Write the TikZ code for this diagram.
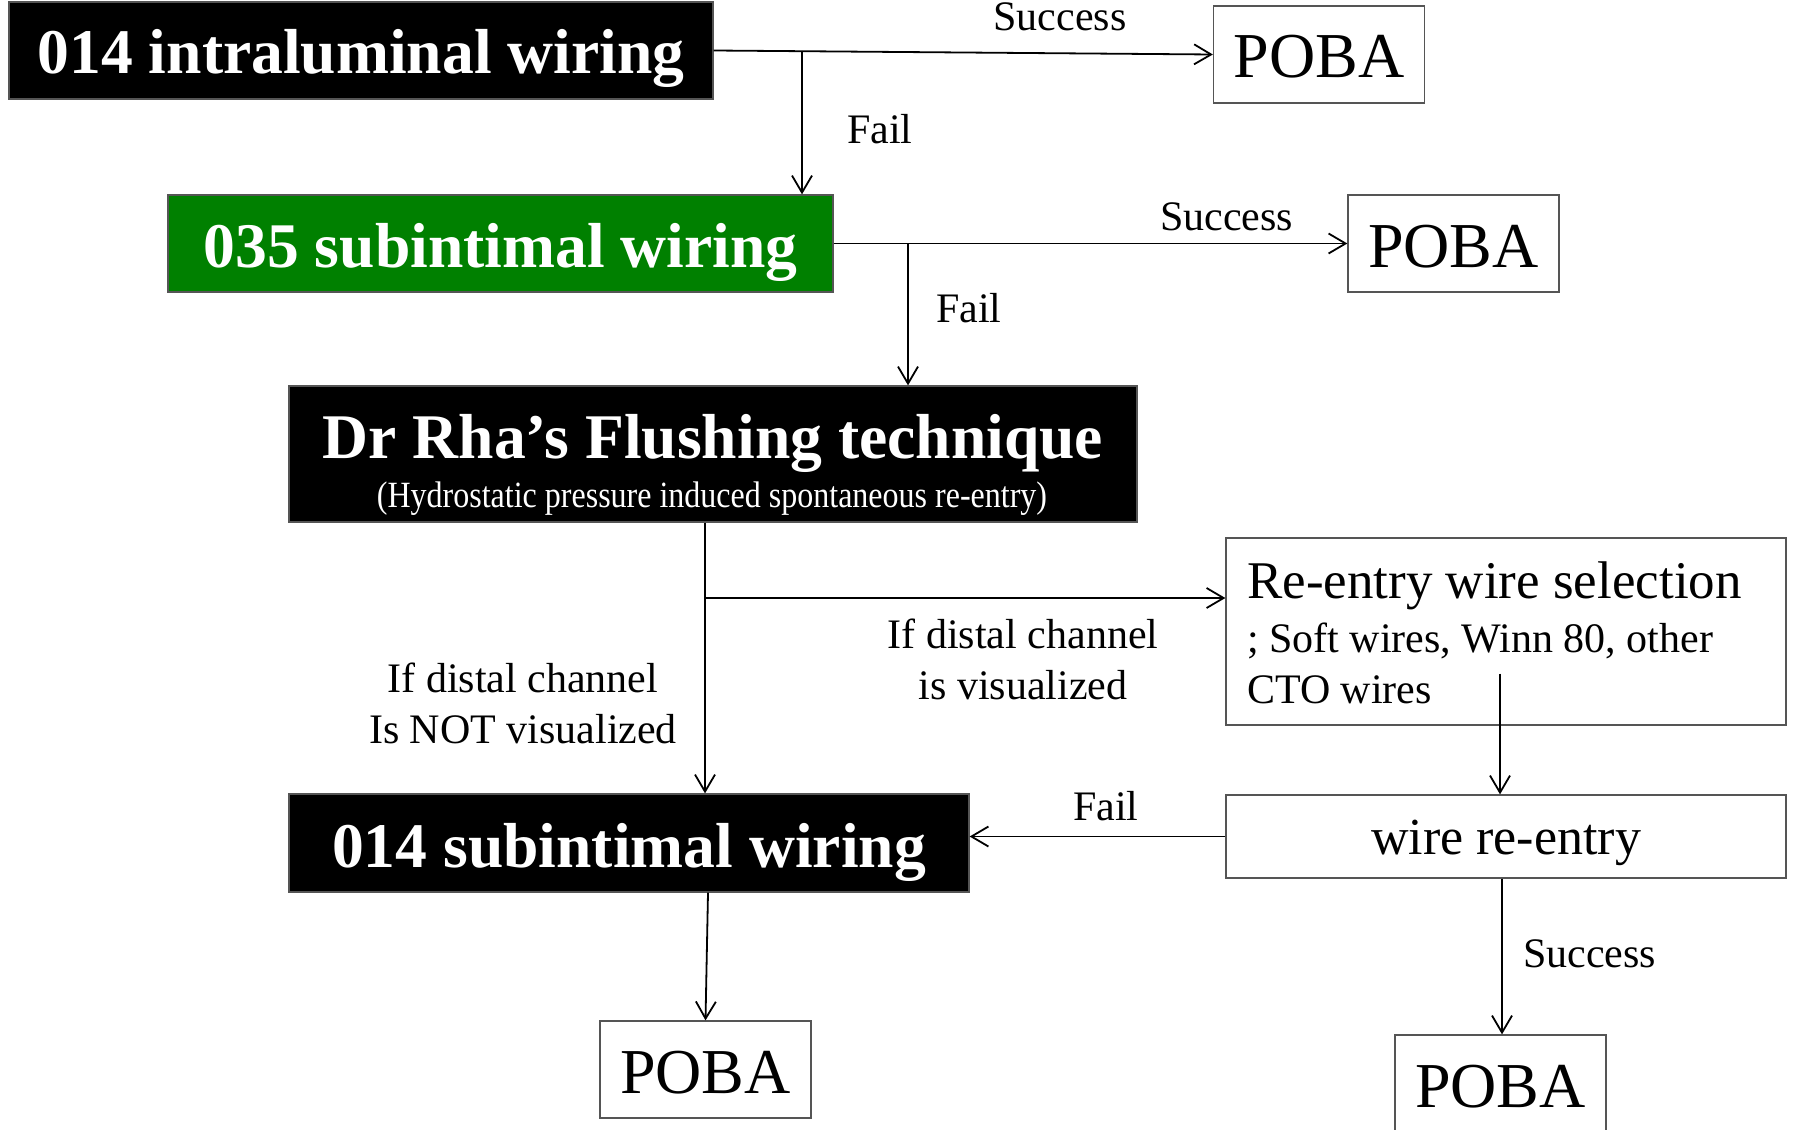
\documentclass[tikz,border=0pt]{standalone}
\usepackage{fontspec}
\setmainfont{Liberation Serif}
\usetikzlibrary{arrows.meta,calc}
\definecolor{boxgreen}{RGB}{0,128,0}
\definecolor{edgegray}{RGB}{85,85,85}
\begin{document}
\begin{tikzpicture}[x=1pt,y=-1pt,
  conn/.style={line width=1.8pt,-{Straight Barb[length=17pt,width=20pt,line width=1.8pt]}},
  boxbase/.style={draw=edgegray,line width=1.3pt,inner xsep=0pt,inner ysep=0pt,anchor=base},
  darkbox/.style={boxbase,fill=black,text=white,font=\fontsize{63.6}{70}\selectfont\bfseries},
  greenbox/.style={boxbase,fill=boxgreen,text=white,font=\fontsize{63.6}{70}\selectfont\bfseries},
  pobabox/.style={boxbase,fill=white,font=\fontsize{64}{70}\selectfont,minimum width=211pt,text height=72pt,text depth=25pt},
  whitebox/.style={boxbase,fill=white,font=\fontsize{52}{60}\selectfont},
  lbl/.style={inner sep=0pt,font=\fontsize{42}{51}\selectfont},
]
\useasboundingbox (0,0) rectangle (1795,1129);
\clip (0,0) rectangle (1795,1129);
\fill[white] (0,0) rectangle (1795,1129);

% boxes
\node[darkbox,minimum width=704pt,text height=72pt,text depth=25pt] (A) at (361,74) {014 intraluminal wiring};
\node[greenbox,minimum width=665pt,text height=72pt,text depth=25pt] (B) at (500.5,267) {035 subintimal wiring};
\node[darkbox,minimum width=848pt,text height=72pt,text depth=64pt] (C) at (713,458) {Dr Rha’s Flushing technique};
\node[inner sep=0pt,anchor=base,text=white,font=\fontsize{37}{42}\selectfont] (Csub) at (712,507) {\scalebox{0.865}[1]{(Hydrostatic pressure induced spontaneous re-entry)}};
\node[darkbox,minimum width=680pt,text height=73pt,text depth=25pt] (D) at (629,867) {014 subintimal wiring};

\node[pobabox] (P1) at (1319,78) {POBA};
\node[pobabox] (P2) at (1453.5,267) {POBA};
\node[pobabox] (P3) at (705.5,1093) {POBA};
\node[pobabox] (P4) at (1500.5,1107) {POBA};

\node[whitebox,minimum width=560pt,text height=60pt,text depth=127pt] (Sel) at (1506,598) {};
\node[inner sep=0pt,anchor=base west,font=\fontsize{53}{60}\selectfont] (Sel1) at (1247,598) {Re-entry wire selection};
\node[lbl,anchor=base west] (Sel2) at (1247,652) {; Soft wires, Winn 80, other};
\node[lbl,anchor=base west] (Sel3) at (1247,703) {CTO wires};

\node[whitebox,minimum width=560pt,text height=59pt,text depth=24pt] (Re) at (1506,854) {wire re-entry};

% connectors
\coordinate (j1) at (802,51);
\coordinate (j2) at (908,243.5);
\coordinate (j3) at ($(C.south)+(-8,0)$);
\coordinate (j4) at (705,598);
\coordinate (s0) at ($(Sel.south)+(-6,-52)$);
\coordinate (j5) at ($(D.south)+(79,0)$);
\coordinate (j6) at ($(Re.south)+(-4,0)$);

\draw[conn] (A.east) -- (P1.west);
\draw[conn] (j1) -- (j1 |- B.north);
\draw[conn] (B.east) -- (P2.west);
\draw[conn] (j2) -- (j2 |- C.north);
\draw[conn] (j3) -- (j3 |- D.north);
\draw[conn] (j4) -- (j4 -| Sel.west);
\draw[conn] (s0) -- (s0 |- Re.north);
\draw[conn] (Re.west) -- (Re.west -| D.east);
\draw[conn] (j5) -- (P3.north);
\draw[conn] (j6) -- (j6 |- P4.north);

% labels
\node[lbl,anchor=base] (lS1) at (1060,31) {Success};
\node[lbl,anchor=base west] (lF1) at (847,143) {Fail};
\node[lbl,anchor=base west] (lS2) at (1160,230) {Success};
\node[lbl,anchor=base west] (lF2) at (936,322) {Fail};
\node[lbl,anchor=base,align=center] (lNot) at (523,743) {If distal channel\\Is NOT visualized};
\node[lbl,anchor=base,align=center] (lVis) at (1023,699) {If distal channel\\is visualized};
\node[lbl,anchor=base west] (lF3) at (1073,820) {Fail};
\node[lbl,anchor=base west] (lS4) at (1523,967) {Success};
\end{tikzpicture}
\end{document}
